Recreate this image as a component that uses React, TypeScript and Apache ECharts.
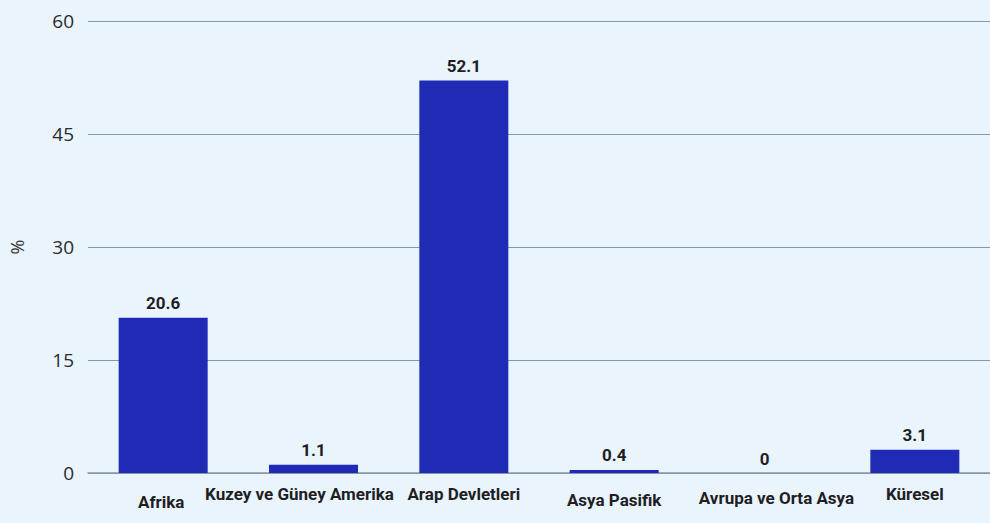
import React, { useEffect, useRef } from "react";
import * as echarts from "echarts";

const categories = ["Afrika", "Kuzey ve Güney Amerika", "Arap Devletleri", "Asya Pasifik", "Avrupa ve Orta Asya", "Küresel"];
const values = [20.6, 1.1, 52.1, 0.4, 0, 3.1];
const labelOffsets = [8, 0, 0, 6, 4, 0];
const labelShifts = [-2, -14, 0, 0, 12, 0];
const yTicks = { min: 0, max: 60, interval: 15 };

export default function App() {
  const ref = useRef<HTMLDivElement>(null);
  useEffect(() => {
    const chart = echarts.init(ref.current!, undefined, { renderer: "svg" });
    const narrow = "Roboto, 'Liberation Sans', sans-serif";
    chart.setOption({
      animation: false,
      backgroundColor: "#e9f4fc",
      grid: { left: 86, top: 21, width: 918, height: 452, containLabel: false },
      xAxis: {
        type: "category",
        data: categories.map((c, i) => ({
          value: c,
          textStyle: {
            padding: [
              labelOffsets[i],
              labelShifts[i] < 0 ? -2 * labelShifts[i] : 0,
              0,
              labelShifts[i] > 0 ? 2 * labelShifts[i] : 0,
            ],
          },
        })),
        axisLine: { show: true, lineStyle: { color: "#8797a6", width: 1.5 } },
        axisTick: { show: false },
        axisLabel: {
          interval: 0,
          margin: 12,
          color: "#1e1e24",
          fontFamily: narrow,
          fontWeight: "bold",
          fontSize: 17,
        },
      },
      yAxis: {
        type: "value",
        min: yTicks.min,
        max: yTicks.max,
        interval: yTicks.interval,
        name: "%",
        nameLocation: "middle",
        nameGap: 62,
        nameRotate: 90,
        nameTextStyle: { color: "#333", fontSize: 18, fontFamily: "'Open Sans', sans-serif" },
        axisLine: { show: false },
        axisTick: { show: false },
        axisLabel: { color: "#2a2a30", fontSize: 19, margin: 14, fontFamily: "'Open Sans', 'Noto Sans', sans-serif" },
        splitLine: { lineStyle: { color: "#8797a6", width: 1.2 } },
      },
      series: [
        {
          type: "bar",
          data: values,
          barWidth: 89,
          itemStyle: { color: "#1f2bb5" },
          label: {
            show: true,
            position: "top",
            distance: 6,
            color: "#1e1e24",
            fontFamily: narrow,
            fontWeight: "bold",
            fontSize: 17,
          },
        },
      ],
    });
    return () => chart.dispose();
  }, []);
  return <div ref={ref} style={{ width: 990, height: 523, position: "fixed", left: 0, top: 0 }} />;
}
